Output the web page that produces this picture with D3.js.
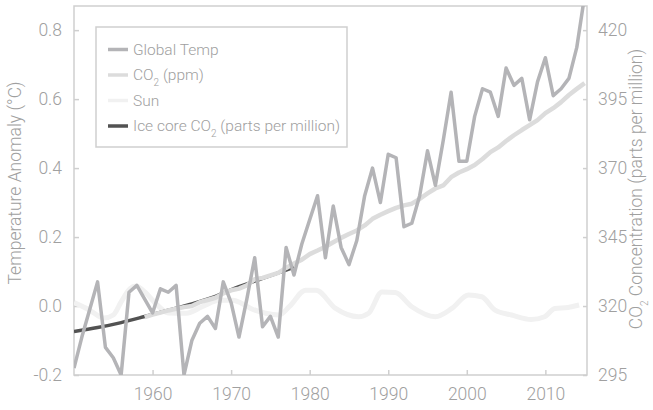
<!DOCTYPE html>
<html>
<head>
<meta charset="utf-8">
<script src="https://cdn.jsdelivr.net/npm/d3@7"></script>
<style>
  html, body { margin: 0; padding: 0; background: #fff; }
  svg text { font-family: 'Roboto', 'DejaVu Sans Condensed', sans-serif; font-weight: 300; fill: #a0a0a0; }
</style>
</head>
<body>
<div id="chart"></div>
<script>
// Global temperature anomaly (°C), one value per year 1950-2015
const tempYears = d3.range(1950, 2016);
const tempValues = [
  -0.18, -0.09, -0.01, 0.07, -0.12, -0.15, -0.20, 0.04, 0.06, 0.02,
  -0.02, 0.05, 0.04, 0.06, -0.20, -0.10, -0.05, -0.03, -0.065, 0.07,
  0.01, -0.09, 0.02, 0.14, -0.06, -0.03, -0.09, 0.17, 0.09, 0.18,
  0.25, 0.32, 0.14, 0.29, 0.17, 0.12, 0.19, 0.32, 0.40, 0.30,
  0.44, 0.43, 0.23, 0.24, 0.32, 0.45, 0.35, 0.48, 0.62, 0.42,
  0.42, 0.55, 0.63, 0.62, 0.55, 0.69, 0.64, 0.66, 0.54, 0.65,
  0.72, 0.61, 0.63, 0.66, 0.75, 0.90
];

// Mauna Loa CO2 (ppm), 1959-2015
const co2Years = d3.range(1959, 2016);
const co2Values = [
  316.0, 316.9, 317.6, 318.4, 319.0, 319.6, 320.0, 321.4, 322.2, 323.0,
  324.6, 325.7, 326.3, 327.5, 329.7, 330.2, 331.1, 332.0, 333.8, 335.4,
  336.8, 338.8, 340.1, 341.5, 343.1, 344.7, 346.1, 347.4, 349.2, 351.6,
  353.1, 354.4, 355.6, 356.5, 357.1, 358.8, 360.8, 362.6, 363.7, 366.7,
  368.4, 369.6, 371.1, 373.3, 375.8, 377.5, 379.8, 381.9, 383.8, 385.6,
  387.4, 389.9, 391.7, 393.9, 396.5, 398.7, 400.8
];

// Sun (drawn on the temperature scale)
const sunYears = [
  1950, 1952, 1953.8, 1955, 1956, 1957.1, 1957.9, 1959, 1960.5, 1962,
  1964.3, 1966.3, 1968.5, 1970.2, 1971.3, 1972.5, 1974.4, 1976.1, 1977.4, 1979.5,
  1980.8, 1983.3, 1986.2, 1987.5, 1989.2, 1990.9, 1993, 1996, 1998.1, 2000.2,
  2001.9, 2003.6, 2005.7, 2008.2, 2009.9, 2011.2, 2012.9, 2014.3
];
const sunValues = [
  0.010, -0.012, -0.035, -0.026, 0.012, 0.050, 0.058, 0.041, 0.005, -0.020,
  -0.021, -0.002, 0.017, 0.017, 0.008, -0.007, -0.021, -0.026, -0.002, 0.046,
  0.046, -0.007, -0.031, -0.021, 0.041, 0.039, -0.002, -0.031, -0.007, 0.032,
  0.027, -0.012, -0.026, -0.039, -0.031, -0.007, -0.004, 0.003
];

// Ice core CO2 (ppm)
const iceYears = [1950, 1953, 1956, 1959, 1962, 1965, 1968, 1971, 1974, 1976, 1978];
const iceValues = [310.8, 312.2, 314.0, 316.2, 318.5, 320.8, 323.5, 327.0, 330.0, 332.0, 334.0];

// Tick labels
const yearTicks = [1960, 1970, 1980, 1990, 2000, 2010];
const tempTicks = [-0.2, 0.0, 0.2, 0.4, 0.6, 0.8];
const co2Ticks = [295, 320, 345, 370, 395, 420];

const legendLabels = ['Global Temp', 'CO2 (ppm)', 'Sun', 'Ice core CO2 (parts per million)'];

const width = 653, height = 410;
const margin = { top: 6, right: 66, bottom: 35, left: 74 };
const colors = { temp: '#b4b4b7', co2: '#dcdcdc', sun: '#f1f1f1', ice: '#525252', frame: '#cfcfcf' };

const svg = d3.select('#chart').append('svg')
  .attr('width', width)
  .attr('height', height);

const x = d3.scaleLinear().domain([1950, 2015.3]).range([margin.left, width - margin.right]);
const yT = d3.scaleLinear().domain([-0.2, 0.87]).range([height - margin.bottom, margin.top]);
const yC = d3.scaleLinear().domain([295, 428.75]).range([height - margin.bottom, margin.top]);

svg.append('clipPath').attr('id', 'plot-clip')
  .append('rect')
  .attr('x', margin.left).attr('y', margin.top)
  .attr('width', width - margin.left - margin.right)
  .attr('height', height - margin.top - margin.bottom);

// frame
svg.append('rect')
  .attr('x', margin.left).attr('y', margin.top)
  .attr('width', width - margin.left - margin.right)
  .attr('height', height - margin.top - margin.bottom)
  .attr('fill', 'none')
  .attr('stroke', colors.frame)
  .attr('stroke-width', 1.5);

// axes
const styleAxis = g => {
  g.select('.domain').remove();
  g.selectAll('.tick line').attr('stroke', colors.frame).attr('stroke-width', 1.5);
  g.selectAll('.tick text').attr('fill', '#a0a0a0').style('font-size', '17.5px');
};

svg.append('g')
  .attr('transform', `translate(0,${height - margin.bottom})`)
  .call(d3.axisBottom(x).tickValues(yearTicks).tickFormat(d3.format('d')).tickSize(-5).tickPadding(13))
  .call(styleAxis);

svg.append('g')
  .attr('transform', `translate(${margin.left},0)`)
  .call(d3.axisLeft(yT).tickValues(tempTicks).tickFormat(d => d.toFixed(1)).tickSize(-5).tickPadding(12))
  .call(styleAxis);

svg.append('g')
  .attr('transform', `translate(${width - margin.right},0)`)
  .call(d3.axisRight(yC).tickValues(co2Ticks).tickSize(-4).tickPadding(11))
  .call(styleAxis);

// axis titles
svg.append('text')
  .attr('transform', `translate(21,183) rotate(-90)`)
  .attr('text-anchor', 'middle')
  .style('font-size', '17.5px')
  .text('Temperature Anomaly (°C)');

const rTitle = svg.append('text')
  .attr('transform', `translate(642,189) rotate(-90)`)
  .attr('text-anchor', 'middle')
  .style('font-size', '17.5px');
rTitle.append('tspan').text('CO');
rTitle.append('tspan').attr('baseline-shift', 'sub').style('font-size', '10px').text('2');
rTitle.append('tspan').text(' Concentration (parts per million)');

// lines
const plot = svg.append('g').attr('clip-path', 'url(#plot-clip)');

const sunLine = d3.line().x((d, i) => x(sunYears[i])).y(d => yT(d)).curve(d3.curveMonotoneX);
const tempLine = d3.line().x((d, i) => x(tempYears[i])).y(d => yT(d));
const co2Line = d3.line().x((d, i) => x(co2Years[i])).y(d => yC(d));
const iceLine = d3.line().x((d, i) => x(iceYears[i])).y(d => yC(d)).curve(d3.curveMonotoneX);

plot.append('path').datum(sunValues)
  .attr('d', sunLine).attr('fill', 'none')
  .attr('stroke', colors.sun).attr('stroke-width', 5);

plot.append('path').datum(iceValues)
  .attr('d', iceLine).attr('fill', 'none')
  .attr('stroke', colors.ice).attr('stroke-width', 3.5);

plot.append('path').datum(co2Values)
  .attr('d', co2Line).attr('fill', 'none')
  .attr('stroke', colors.co2).attr('stroke-width', 4.5)
  .attr('stroke-linejoin', 'round');

plot.append('path').datum(tempValues)
  .attr('d', tempLine).attr('fill', 'none')
  .attr('stroke', colors.temp).attr('stroke-width', 3.5)
  .attr('stroke-linejoin', 'round');

// legend
const legend = svg.append('g').attr('transform', 'translate(96,27)');
legend.append('rect')
  .attr('width', 251).attr('height', 120)
  .attr('fill', '#fff')
  .attr('stroke', colors.frame)
  .attr('stroke-width', 1.5);

const legendColors = [colors.temp, colors.co2, colors.sun, colors.ice];
const items = legend.selectAll('.legend-item')
  .data(legendLabels)
  .enter()
  .append('g')
  .attr('class', 'legend-item')
  .attr('transform', (d, i) => `translate(12,${22.5 + i * 25.5})`);

items.append('line')
  .attr('x1', 0).attr('x2', 20)
  .attr('stroke', (d, i) => legendColors[i])
  .attr('stroke-width', 3.5);

items.append('text')
  .attr('x', 25)
  .attr('dy', '.35em')
  .style('font-size', '15.5px')
  .each(function(d) {
    const t = d3.select(this);
    const parts = d.split('CO2');
    parts.forEach((p, j) => {
      if (j > 0) {
        t.append('tspan').text('CO');
        t.append('tspan').attr('baseline-shift', 'sub').style('font-size', '10px').text('2');
      }
      if (p) t.append('tspan').text(p);
    });
  });
</script>
</body>
</html>
